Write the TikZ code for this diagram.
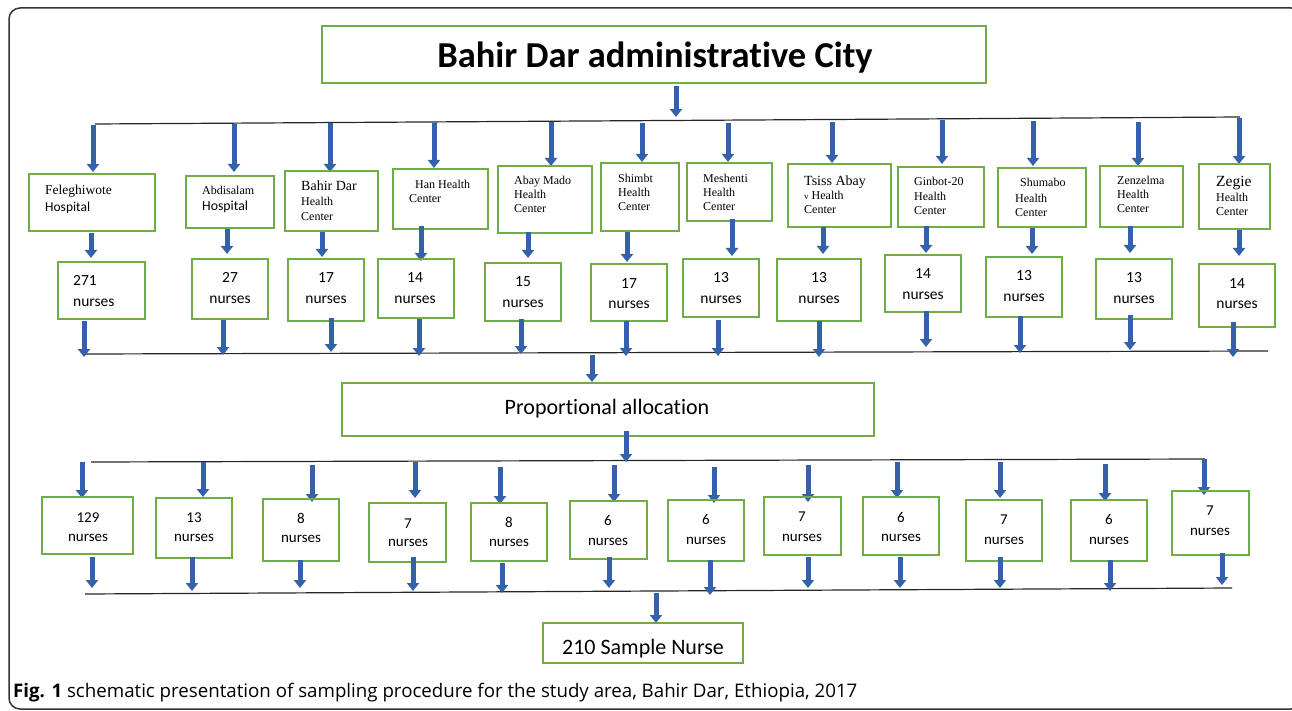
\documentclass[tikz,border=0pt]{standalone}
\usepackage{fontspec}
\setmainfont{Carlito}[Ligatures=NoCommon]
\newfontfamily\tnr{Liberation Serif}
\newfontfamily\capfont{Open Sans}[Ligatures=NoCommon]
\usetikzlibrary{arrows.meta}
\definecolor{gr}{HTML}{70AD47}
\definecolor{ab}{HTML}{3461A9}
\newcommand\fs[1]{\fontsize{#1}{#1}\selectfont}
\newcommand\GB[5]{\node[gbox, minimum width={(#4-#2)*1pt}, minimum height={(#5-#3)*1pt}] (#1) at ({(#2+#4)/2},{(#3+#5)/2}) {};}
\newcommand\BA[4]{\coordinate (#1s) at (#2,#3); \coordinate (#1e) at (#2,#4); \draw[barrow] (#1s) -- (#1e);}
\newcommand\TW[5]{\node[txt, anchor=base west, font=#4] (#1) at (#2,#3) {#5};}
\newcommand\TC[5]{\node[txt, anchor=base, font=#4] (#1) at (#2,#3) {#5};}
\begin{document}
\begin{tikzpicture}[x=1pt,y=-1pt,
  gbox/.style={draw=gr, line width=2pt, inner sep=0pt},
  barrow/.style={draw=ab, line width=5pt, -{Triangle[width=12pt,length=8pt]}},
  bus/.style={draw=black!85, line width=1.2pt},
  txt/.style={inner sep=0pt},
  frame/.style={draw=black!80, line width=1.5pt, rounded corners=11pt}]
\useasboundingbox (0,0) rectangle (1292,711);
\draw[frame] (9,8) rectangle (1302,709);

% title
\GB{title}{322}{26}{986}{83}
\TC{titlet}{655}{68}{\bfseries\fs{36.5}}{Bahir Dar administrative City}
\BA{a0}{676}{86}{117}

% bus lines
\coordinate (L1a) at (95,124); \coordinate (L1b) at (1240,117);
\draw[bus] (L1a) -- (L1b);
\coordinate (L2a) at (83,354); \coordinate (L2b) at (1268,351);
\draw[bus] (L2a) -- (L2b);
\coordinate (L3a) at (91,462); \coordinate (L3b) at (1205,459);
\draw[bus] (L3a) -- (L3b);
\coordinate (L4a) at (85,594); \coordinate (L4b) at (1232,588);
\draw[bus] (L4a) -- (L4b);

% row A arrows
\BA{aa1}{93}{125}{172}
\BA{aa2}{234}{124}{172}
\BA{aa3}{330}{123}{172}
\BA{aa4}{434}{123}{168}
\BA{aa5}{551}{122}{166}
\BA{aa6}{642}{123}{162}
\BA{aa7}{728}{123}{162}
\BA{aa8}{832}{122}{163}
\BA{aa9}{942}{120}{164}
\BA{aa10}{1033}{121}{166}
\BA{aa11}{1138}{122}{166}
\BA{aa12}{1239}{118}{164}

% name boxes
\GB{nb1}{29}{174}{155}{231}
\GB{nb2}{186}{176}{274}{228}
\GB{nb3}{285}{171}{378}{231}
\GB{nb4}{393}{169}{488}{229}
\GB{nb5}{498}{166}{592}{233}
\GB{nb6}{601}{163}{679}{231}
\GB{nb7}{687}{163}{772}{221}
\GB{nb8}{788}{164}{891}{227}
\GB{nb9}{898}{167}{984}{227}
\GB{nb10}{998}{168}{1086}{227}
\GB{nb11}{1100}{166}{1183}{227}
\GB{nb12}{1199}{164}{1270}{229}

\TW{n1a}{45}{195}{\tnr\fs{13.5}}{Feleghiwote}
\TW{n1b}{45}{212}{\fs{13.5}}{Hospital}
\TW{n2a}{202}{195}{\tnr\fs{12}}{Abdisalam}
\TW{n2b}{202}{211}{\fs{13.8}}{Hospital}
\TW{n3a}{301}{191}{\tnr\fs{14}}{Bahir Dar}
\TW{n3b}{301}{206}{\tnr\fs{12}}{Health}
\TW{n3c}{301}{221}{\tnr\fs{12}}{Center}
\TW{n4a}{415}{189}{\tnr\fs{12}}{Han Health}
\TW{n4b}{409}{203}{\tnr\fs{12}}{Center}
\TW{n5a}{514}{185}{\tnr\fs{12}}{Abay Mado}
\TW{n5b}{514}{199}{\tnr\fs{12}}{Health}
\TW{n5c}{514}{213}{\tnr\fs{12}}{Center}
\TW{n6a}{618}{183}{\tnr\fs{12}}{Shimbt}
\TW{n6b}{618}{197}{\tnr\fs{12}}{Health}
\TW{n6c}{618}{211}{\tnr\fs{12}}{Center}
\TW{n7a}{703}{183}{\tnr\fs{12}}{Meshenti}
\TW{n7b}{703}{197}{\tnr\fs{12}}{Health}
\TW{n7c}{703}{211}{\tnr\fs{12}}{Center}
\TW{n8a}{804}{186}{\tnr\fs{14}}{Tsiss Abay}
\TW{n8b}{804}{200}{\tnr\fs{12}}{{\fs{9}v} Health}
\TW{n8c}{804}{214}{\tnr\fs{12}}{Center}
\TW{n9a}{914}{186}{\tnr\fs{12}}{Ginbot-20}
\TW{n9b}{914}{201}{\tnr\fs{12}}{Health}
\TW{n9c}{914}{215}{\tnr\fs{12}}{Center}
\TW{n10a}{1020}{187}{\tnr\fs{12}}{Shumabo}
\TW{n10b}{1015}{203}{\tnr\fs{12}}{Health}
\TW{n10c}{1015}{217}{\tnr\fs{12}}{Center}
\TW{n11a}{1117}{185}{\tnr\fs{12}}{Zenzelma}
\TW{n11b}{1117}{199}{\tnr\fs{12}}{Health}
\TW{n11c}{1117}{213}{\tnr\fs{12}}{Center}
\TW{n12a}{1216}{187}{\tnr\fs{15.5}}{Zegie}
\TW{n12b}{1216}{202}{\tnr\fs{12}}{Health}
\TW{n12c}{1216}{216}{\tnr\fs{12}}{Center}

% row B arrows
\BA{ab1}{91}{233}{258}
\BA{ab2}{227}{229}{254}
\BA{ab3}{322}{232}{257}
\BA{ab4}{421}{226}{261}
\BA{ab5}{528}{232}{258}
\BA{ab6}{627}{232}{262}
\BA{ab7}{732}{219}{256}
\BA{ab8}{823}{227}{254}
\BA{ab9}{926}{226}{253}
\BA{ab10}{1032}{228}{254}
\BA{ab11}{1130}{226}{253}
\BA{ab12}{1239}{230}{256}

% count boxes
\GB{cb1}{58}{262}{145}{319}
\GB{cb2}{192}{259}{268}{319}
\GB{cb3}{288}{259}{364}{321}
\GB{cb4}{378}{259}{454}{318}
\GB{cb5}{485}{263}{561}{321}
\GB{cb6}{591}{264}{667}{321}
\GB{cb7}{683}{259}{759}{317}
\GB{cb8}{777}{259}{861}{321}
\GB{cb9}{885}{255}{961}{312}
\GB{cb10}{986}{257}{1062}{317}
\GB{cb11}{1096}{259}{1172}{319}
\GB{cb12}{1199}{264}{1275}{327}

\TW{c1a}{73}{285}{\fs{15.5}}{271}
\TW{c1b}{73}{306}{\fs{15.5}}{nurses}
\TC{c2a}{230}{283}{\fs{15.5}}{27}
\TC{c2b}{230}{303}{\fs{15.5}}{nurses}
\TC{c3a}{326}{283}{\fs{15.5}}{17}
\TC{c3b}{326}{303}{\fs{15.5}}{nurses}
\TC{c4a}{415}{283}{\fs{15.5}}{14}
\TC{c4b}{415}{303}{\fs{15.5}}{nurses}
\TC{c5a}{523}{287}{\fs{15.5}}{15}
\TC{c5b}{523}{307}{\fs{15.5}}{nurses}
\TC{c6a}{629}{288}{\fs{15.5}}{17}
\TC{c6b}{629}{308}{\fs{15.5}}{nurses}
\TC{c7a}{721}{283}{\fs{15.5}}{13}
\TC{c7b}{721}{303}{\fs{15.5}}{nurses}
\TC{c8a}{819}{283}{\fs{15.5}}{13}
\TC{c8b}{819}{303}{\fs{15.5}}{nurses}
\TC{c9a}{923}{278}{\fs{15.5}}{14}
\TC{c9b}{923}{299}{\fs{15.5}}{nurses}
\TC{c10a}{1024}{280}{\fs{15.5}}{13}
\TC{c10b}{1024}{301}{\fs{15.5}}{nurses}
\TC{c11a}{1134}{283}{\fs{15.5}}{13}
\TC{c11b}{1134}{303}{\fs{15.5}}{nurses}
\TC{c12a}{1237}{288}{\fs{15.5}}{14}
\TC{c12b}{1237}{308}{\fs{15.5}}{nurses}

% row C arrows
\BA{ac1}{84}{321}{357}
\BA{ac2}{223}{320}{355}
\BA{ac3}{331}{318}{352}
\BA{ac4}{419}{319}{356}
\BA{ac5}{521}{319}{354}
\BA{ac6}{626}{321}{356}
\BA{ac7}{718}{320}{356}
\BA{ac8}{819}{321}{357}
\BA{ac9}{926}{311}{347}
\BA{ac10}{1020}{316}{353}
\BA{ac11}{1130}{315}{350}
\BA{ac12}{1233}{322}{357}

% proportional allocation
\BA{ap1}{592}{355}{382}
\GB{pa}{342}{383}{874}{436}
\TC{pat}{607}{414}{\fs{22}}{Proportional allocation}
\BA{ap2}{626}{431}{462}

% row D arrows
\BA{ad1}{82}{462}{498}
\BA{ad2}{203}{462}{497}
\BA{ad3}{312}{465}{502}
\BA{ad4}{415}{462}{498}
\BA{ad5}{500}{467}{504}
\BA{ad6}{614}{465}{502}
\BA{ad7}{714}{467}{503}
\BA{ad8}{808}{465}{502}
\BA{ad9}{897}{462}{498}
\BA{ad10}{1000}{462}{498}
\BA{ad11}{1105}{464}{501}
\BA{ad12}{1204}{459}{495}

% lower boxes
\GB{lb1}{42}{497}{133}{554}
\GB{lb2}{156}{498}{232}{558}
\GB{lb3}{263}{499}{339}{561}
\GB{lb4}{369}{503}{446}{562}
\GB{lb5}{471}{503}{547}{561}
\GB{lb6}{570}{501}{647}{559}
\GB{lb7}{668}{500}{744}{561}
\GB{lb8}{764}{497}{841}{555}
\GB{lb9}{863}{497}{939}{555}
\GB{lb10}{966}{500}{1042}{561}
\GB{lb11}{1071}{500}{1147}{561}
\GB{lb12}{1172}{491}{1249}{555}

\TC{l1a}{88}{522}{\fs{15}}{129}
\TC{l1b}{88}{541.5}{\fs{15}}{nurses}
\TC{l2a}{194}{522}{\fs{15}}{13}
\TC{l2b}{194}{541.5}{\fs{15}}{nurses}
\TC{l3a}{301}{523}{\fs{15}}{8}
\TC{l3b}{301}{542.5}{\fs{15}}{nurses}
\TC{l4a}{408}{528}{\fs{15}}{7}
\TC{l4b}{408}{546.5}{\fs{15}}{nurses}
\TC{l5a}{509}{527}{\fs{15}}{8}
\TC{l5b}{509}{546.5}{\fs{15}}{nurses}
\TC{l6a}{608}{525}{\fs{15}}{6}
\TC{l6b}{608}{545.5}{\fs{15}}{nurses}
\TC{l7a}{706}{524}{\fs{15}}{6}
\TC{l7b}{706}{544.5}{\fs{15}}{nurses}
\TC{l8a}{802}{521}{\fs{15}}{7}
\TC{l8b}{802}{541.5}{\fs{15}}{nurses}
\TC{l9a}{901}{522}{\fs{15}}{6}
\TC{l9b}{901}{541.5}{\fs{15}}{nurses}
\TC{l10a}{1004}{524}{\fs{15}}{7}
\TC{l10b}{1004}{544.5}{\fs{15}}{nurses}
\TC{l11a}{1109}{524}{\fs{15}}{6}
\TC{l11b}{1109}{544.5}{\fs{15}}{nurses}
\TC{l12a}{1210}{515}{\fs{15}}{7}
\TC{l12b}{1210}{535.5}{\fs{15}}{nurses}

% row E arrows
\BA{ae1}{92}{557}{588}
\BA{ae2}{192}{557}{591}
\BA{ae3}{300}{560}{588}
\BA{ae4}{413}{557}{591}
\BA{ae5}{502}{563}{593}
\BA{ae6}{609}{557}{588}
\BA{ae7}{710}{560}{595}
\BA{ae8}{808}{557}{588}
\BA{ae9}{900}{557}{588}
\BA{ae10}{1000}{557}{588}
\BA{ae11}{1110}{560}{591}
\BA{ae12}{1222}{553}{585}

% sample
\BA{as}{656}{593}{623}
\GB{sb}{543}{623}{743}{663}
\TC{sbt}{643}{654}{\fs{22}}{210 Sample Nurse}

% caption
\TW{cap}{13}{697}{\capfont\fs{18.7}}{\textbf{Fig. 1} schematic presentation of sampling procedure for the study area, Bahir Dar, Ethiopia, 2017}
\end{tikzpicture}
\end{document}
